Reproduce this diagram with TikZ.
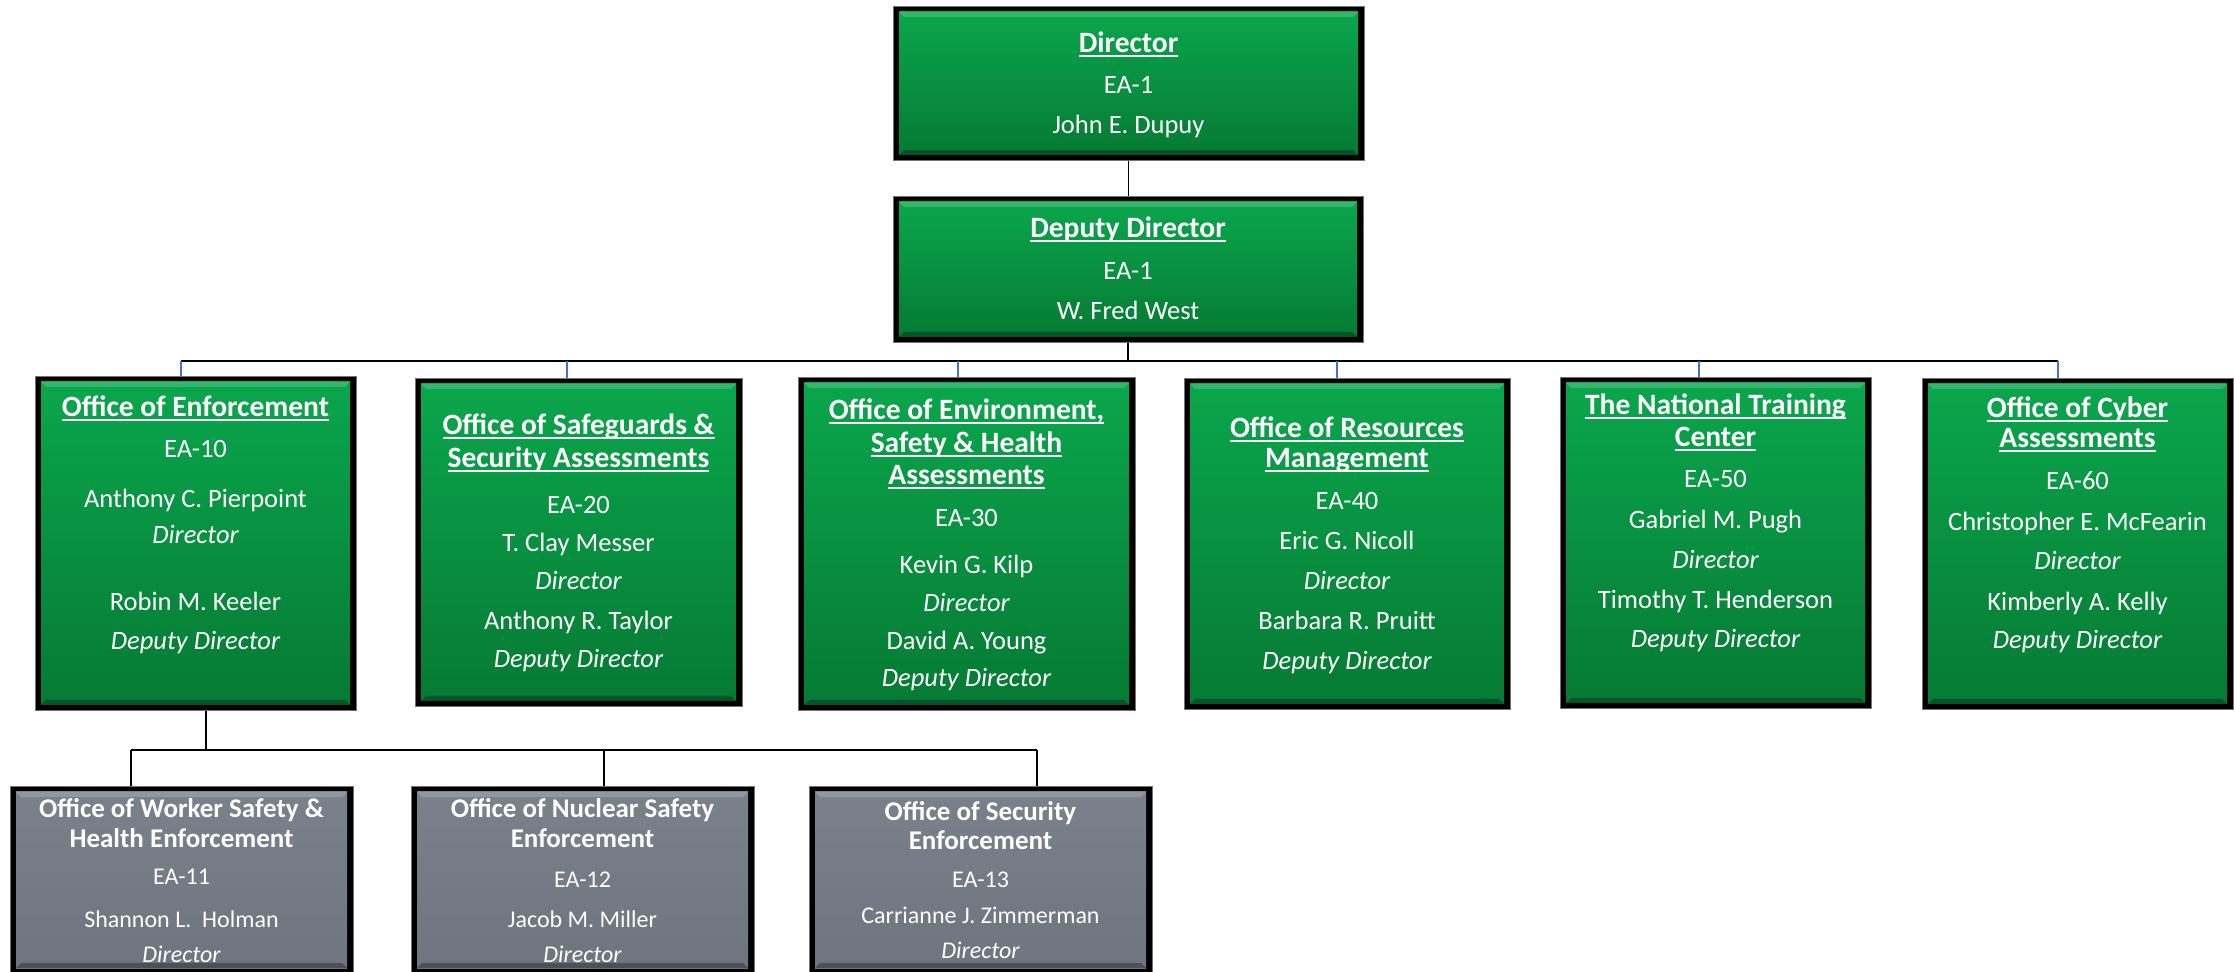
\documentclass[tikz,border=0pt]{standalone}
\usepackage{fontspec}
\setmainfont{Carlito}
\usetikzlibrary{fit}
\definecolor{gtop}{HTML}{0AA64C}
\definecolor{gbot}{HTML}{067A34}
\definecolor{stop}{HTML}{7A818A}
\definecolor{sbot}{HTML}{6E757E}
\definecolor{tickblue}{HTML}{4472C4}
\newsavebox\ulbox
\newcommand\ulx[1]{\sbox\ulbox{#1}\rlap{\rule[-2pt]{\wd\ulbox}{0.8pt}}\usebox\ulbox}
\newcommand\bevel{%
 \fill[white,opacity=.18] (path picture bounding box.north west) -- (path picture bounding box.north east) -- ([shift={(-2.5pt,-2.5pt)}]path picture bounding box.north east) -- ([shift={(2.5pt,-2.5pt)}]path picture bounding box.north west) -- cycle;
 \fill[black,opacity=.3] (path picture bounding box.south west) -- (path picture bounding box.south east) -- ([shift={(-2.5pt,2.5pt)}]path picture bounding box.south east) -- ([shift={(2.5pt,2.5pt)}]path picture bounding box.south west) -- cycle;}
\newcommand\orgbox[6]{%
 \node[frame, fit={(#2,#3) (#4,#5)}] (#1) {};
 \node[#6, fit={(#2+6,#3+5) (#4-6,#5-6)}] (#1-in) {};}
\newcommand\tline[5]{\node[#1] (#2) at (#3.north |- 0,#4) {#5};}
\tikzset{
 frame/.style={draw=black!55, line width=0.5pt, fill=black, inner sep=0pt},
 grn/.style={inner sep=0pt, top color=gtop, bottom color=gbot, path picture={\bevel}},
 gry/.style={inner sep=0pt, top color=stop, bottom color=sbot, path picture={\bevel}},
 ttl/.style={anchor=base, inner sep=0pt, text=white, font=\fontsize{14.75}{16}\selectfont\bfseries},
 txt/.style={anchor=base, inner sep=0pt, text=white, font=\fontsize{13.25}{15}\selectfont},
 itx/.style={anchor=base, inner sep=0pt, text=white, font=\fontsize{13.25}{15}\selectfont\itshape},
 sttl/.style={anchor=base, inner sep=0pt, text=white, font=\fontsize{13.5}{15}\selectfont\bfseries},
 stxt/.style={anchor=base, inner sep=0pt, text=white, font=\fontsize{12}{14}\selectfont},
 sitx/.style={anchor=base, inner sep=0pt, text=white, font=\fontsize{12}{14}\selectfont\itshape},
 conn/.style={draw=black, line width=0.8pt},
 tickline/.style={draw=tickblue, line width=0.6pt},
}
\begin{document}
\begin{tikzpicture}[x=0.5pt,y=-0.5pt]
\useasboundingbox[fill=white] (0,0) rectangle (2234,972);
% connectors
\coordinate (busL) at (181,361);
\coordinate (busR) at (2058,361);
\coordinate (t-oe) at (181,361);
\coordinate (t-osa) at (567,361);
\coordinate (t-oesh) at (958,361);
\coordinate (t-orm) at (1337,361);
\coordinate (t-ntc) at (1699,361);
\coordinate (t-oca) at (2058,361);
\coordinate (sb) at (206,750);
\coordinate (sbL) at (131,750);
\coordinate (sbM) at (604,750);
\coordinate (sbR) at (1037,750);
% boxes
\orgbox{dir}{893}{7}{1364}{161}{grn}
\orgbox{dep}{893}{197}{1363}{343}{grn}
\orgbox{oe}{35}{377}{356}{711}{grn}
\orgbox{osa}{415}{379}{742}{707}{grn}
\orgbox{oesh}{798}{378}{1135}{711}{grn}
\orgbox{orm}{1184}{379}{1510}{710}{grn}
\orgbox{ntc}{1560}{378}{1871}{709}{grn}
\orgbox{oca}{1922}{379}{2233}{710}{grn}
\orgbox{ows}{10}{787}{353}{974}{gry}
\orgbox{ons}{411}{787}{754}{974}{gry}
\orgbox{ose}{809}{787}{1152}{974}{gry}
% lines
\draw[conn] (dir.south) -- (dir.south |- dep.north);
\draw[conn] (dep.south) -- (dep.south |- busL);
\draw[conn] (busL) -- (busR);
\draw[tickline] (t-oe) -- (t-oe |- oe.north);
\draw[tickline] (t-osa) -- (t-osa |- osa.north);
\draw[tickline] (t-oesh) -- (t-oesh |- oesh.north);
\draw[tickline] (t-orm) -- (t-orm |- orm.north);
\draw[tickline] (t-ntc) -- (t-ntc |- ntc.north);
\draw[tickline] (t-oca) -- (t-oca |- oca.north);
\draw[conn] (sb |- oe.south) -- (sb);
\draw[conn] (sbL) -- (sbR);
\draw[conn] (sbL) -- (sbL |- ows.north);
\draw[conn] (sbM) -- (sbM |- ons.north);
\draw[conn] (sbR) -- (sbR |- ose.north);
% texts
\tline{ttl}{dir-1}{dir}{53}{\ulx{Director}}
\tline{txt}{dir-2}{dir}{94}{EA-1}
\tline{txt}{dir-3}{dir}{134}{John E. Dupuy}
\tline{ttl}{dep-1}{dep}{238}{\ulx{Deputy Director}}
\tline{txt}{dep-2}{dep}{280}{EA-1}
\tline{txt}{dep-3}{dep}{320}{W. Fred West}
%
\tline{ttl}{oe-1}{oe}{417}{\ulx{Office of Enforcement}}
\tline{txt}{oe-2}{oe}{458}{EA-10}
\tline{txt}{oe-3}{oe}{508}{Anthony C. Pierpoint}
\tline{itx}{oe-4}{oe}{544}{Director}
\tline{txt}{oe-5}{oe}{611}{Robin M. Keeler}
\tline{itx}{oe-6}{oe}{650}{Deputy Director}
%
\tline{ttl}{osa-1}{osa}{435}{\ulx{Office of Safeguards \&}}
\tline{ttl}{osa-2}{osa}{468}{\ulx{Security Assessments}}
\tline{txt}{osa-3}{osa}{514}{EA-20}
\tline{txt}{osa-4}{osa}{552}{T. Clay Messer}
\tline{itx}{osa-5}{osa}{590}{Director}
\tline{txt}{osa-6}{osa}{630}{Anthony R. Taylor}
\tline{itx}{osa-7}{osa}{668}{Deputy Director}
%
\tline{ttl}{oesh-1}{oesh}{420}{\ulx{Office of Environment,}}
\tline{ttl}{oesh-2}{oesh}{453}{\ulx{Safety \& Health}}
\tline{ttl}{oesh-3}{oesh}{485}{\ulx{Assessments}}
\tline{txt}{oesh-4}{oesh}{527}{EA-30}
\tline{txt}{oesh-5}{oesh}{574}{Kevin G. Kilp}
\tline{itx}{oesh-6}{oesh}{612}{Director}
\tline{txt}{oesh-7}{oesh}{650}{David A. Young}
\tline{itx}{oesh-8}{oesh}{687}{Deputy Director}
%
\tline{ttl}{orm-1}{orm}{438}{\ulx{Office of Resources}}
\tline{ttl}{orm-2}{orm}{468}{\ulx{Management}}
\tline{txt}{orm-3}{orm}{510}{EA-40}
\tline{txt}{orm-4}{orm}{550}{Eric G. Nicoll}
\tline{itx}{orm-5}{orm}{590}{Director}
\tline{txt}{orm-6}{orm}{630}{Barbara R. Pruitt}
\tline{itx}{orm-7}{orm}{670}{Deputy Director}
%
\tline{ttl}{ntc-1}{ntc}{415}{\ulx{The National Training}}
\tline{ttl}{ntc-2}{ntc}{447}{\ulx{Center}}
\tline{txt}{ntc-3}{ntc}{488}{EA-50}
\tline{txt}{ntc-4}{ntc}{529}{Gabriel M. Pugh}
\tline{itx}{ntc-5}{ntc}{569}{Director}
\tline{txt}{ntc-6}{ntc}{609}{Timothy T. Henderson}
\tline{itx}{ntc-7}{ntc}{648}{Deputy Director}
%
\tline{ttl}{oca-1}{oca}{418}{\ulx{Office of Cyber}}
\tline{ttl}{oca-2}{oca}{448}{\ulx{Assessments}}
\tline{txt}{oca-3}{oca}{490}{EA-60}
\tline{txt}{oca-4}{oca}{531}{Christopher E. McFearin}
\tline{itx}{oca-5}{oca}{570}{Director}
\tline{txt}{oca-6}{oca}{611}{Kimberly A. Kelly}
\tline{itx}{oca-7}{oca}{649}{Deputy Director}
%
\tline{sttl}{ows-1}{ows}{818}{Office of Worker Safety \&}
\tline{sttl}{ows-2}{ows}{847}{Health Enforcement}
\tline{stxt}{ows-3}{ows}{884}{EA-11}
\tline{stxt}{ows-4}{ows}{927}{Shannon L.\ \ Holman}
\tline{sitx}{ows-5}{ows}{962}{Director}
%
\tline{sttl}{ons-1}{ons}{818}{Office of Nuclear Safety}
\tline{sttl}{ons-2}{ons}{847}{Enforcement}
\tline{stxt}{ons-3}{ons}{887}{EA-12}
\tline{stxt}{ons-4}{ons}{927}{Jacob M. Miller}
\tline{sitx}{ons-5}{ons}{962}{Director}
%
\tline{sttl}{ose-1}{ose}{820}{Office of Security}
\tline{sttl}{ose-2}{ose}{849}{Enforcement}
\tline{stxt}{ose-3}{ose}{887}{EA-13}
\tline{stxt}{ose-4}{ose}{923}{Carrianne J. Zimmerman}
\tline{sitx}{ose-5}{ose}{958}{Director}
\end{tikzpicture}
\end{document}
